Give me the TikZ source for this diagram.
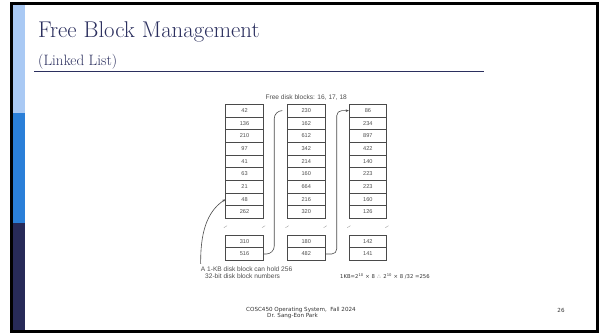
\documentclass[tikz,border=0pt]{standalone}
\usepackage{fontspec}
\usetikzlibrary{arrows.meta,calc}
\newfontfamily\diagfont{Liberation Sans}
\newfontfamily\footfont{DejaVu Sans}
\definecolor{titlenavy}{HTML}{2B2F5E}
\definecolor{barlight}{HTML}{A9C9F4}
\definecolor{barmid}{HTML}{2A7FD8}
\definecolor{bardark}{HTML}{272A58}
\definecolor{cellline}{HTML}{4A4A4A}
\definecolor{celltext}{HTML}{4D4D4D}

\begin{document}
\begin{tikzpicture}[x=1pt,y=-1pt,
  cell/.style={draw=cellline, line width=0.5pt, minimum width=37.6pt,
    minimum height=12.67pt, inner sep=0pt, text=celltext,
    font=\diagfont\fontsize{5.6}{6}\selectfont},
  link/.style={draw=cellline, line width=0.6pt, rounded corners=5pt},
  tip/.style={-{Stealth[length=3.2pt,width=2.6pt]}},
  note/.style={inner sep=0pt, text=celltext, font=\diagfont\fontsize{6.6}{7}\selectfont},
  brk/.style={draw=gray!75, line width=0.4pt},
  foot/.style={inner sep=0pt, text=black!80, font=\footfont\fontsize{5.6}{6}\selectfont}]

\path[use as bounding box] (0,0) rectangle (605,333);

% side bar
\fill[barlight] (12.5,4) rectangle (25,113);
\fill[barmid]   (12.5,113) rectangle (25,223);
\fill[bardark]  (12.5,223) rectangle (25,331);

% slide frame
\draw[black, line width=3pt] (11,3.5) rectangle (597.5,331.5);

% heading
\node[anchor=base west, inner sep=0pt, text=titlenavy,
  font=\fontsize{22.8}{24}\selectfont] (title) at (38,37) {Free Block Management};
\node[anchor=base west, inner sep=0pt, text=titlenavy,
  font=\fontsize{15}{15}\selectfont] (subtitle) at (38,65.5) {(Linked List)};
\draw[titlenavy, line width=0.8pt] (34,71) -- (484,71);

% free-list blocks
\foreach \col/\cx/\vals in {
  1/244.5/{42,136,210,97,41,63,21,48,262,310,516},
  2/306.2/{230,162,612,342,214,160,664,216,320,180,482},
  3/367.9/{86,234,897,422,140,223,223,160,126,142,141}} {
  \foreach \v [count=\r] in \vals {
    \pgfmathsetmacro\cy{\r<10 ? 104.3+12.67*(\r-0.5) : 235+12.67*(\r-9.5)}
    \node[cell] (c\col r\r) at (\cx,\cy) {\v};
  }
}

% break marks in the elided part of each block
\foreach \col in {1,2,3} {
  \foreach \side in {west,east} {
    \coordinate (m) at ($(c\col r9.south \side)!0.5!(c\col r10.north \side)$);
    \draw[brk] ([shift={(-1.6,1)}]m) .. controls ([shift={(-0.6,-1.8)}]m)
      and ([shift={(0.6,1.8)}]m) .. ([shift={(1.6,-1)}]m);
  }
}

\node[note] (head) at (306.2,97.5) {Free disk blocks: 16, 17, 18};

% links from the last entry of one block to the next block
\coordinate (end1) at ([xshift=-5pt]c2r1.west);
\draw[link, rounded corners=8pt] (c1r11.east) -| ([xshift=10.7pt]c1r1.east) -- (end1);
\draw[link, tip] (c2r11.east) -| ([xshift=11.5pt]c2r1.east) -- (c3r1.west);

% annotation
\node[note, anchor=west] (lbla) at (200.7,269.5) {A 1-KB disk block can hold 256};
\node[note, anchor=west] (lblb) at (205,275.7) {32-bit disk block numbers};
\coordinate (lblpt) at ([yshift=3pt]lbla.north west);
\draw[draw=cellline, line width=0.6pt, tip] (lblpt) .. controls +(-0.5,-38) and +(-15,10) .. (c1r8.west);

\node[foot, anchor=west, font=\footfont\fontsize{5.3}{6}\selectfont] (calc) at (340,276.5)
  {1KB=2\textsuperscript{10} × 8 \,∴\, 2\textsuperscript{10} × 8 /32 =256};

% footer
\node[foot, anchor=west] (foot1) at (246,310) {COSC450 Operating System,\ \ Fall 2024};
\node[foot, anchor=west] (foot2) at (267,315.7) {Dr. Sang-Eon Park};
\node[foot] (page) at (561,310) {26};
\end{tikzpicture}
\end{document}
